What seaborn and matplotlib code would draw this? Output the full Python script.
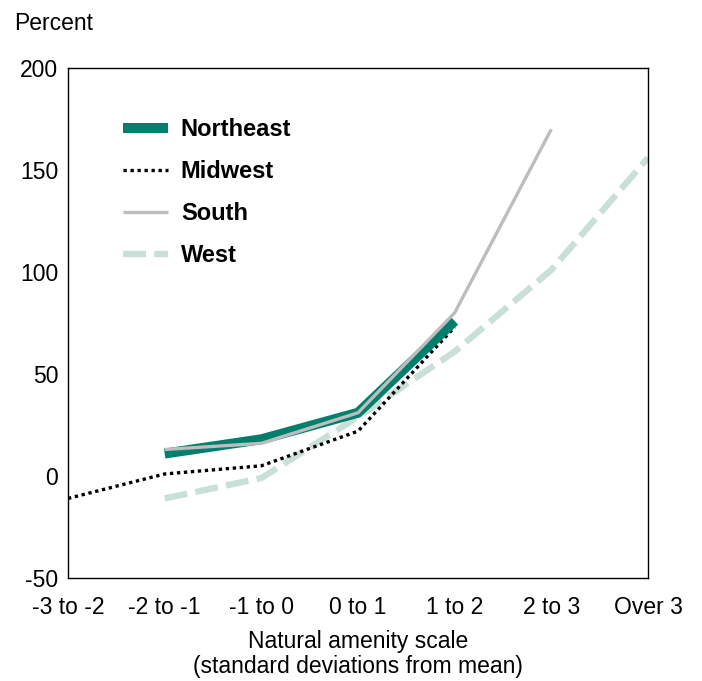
import numpy as np
import pandas as pd
import matplotlib
matplotlib.use("Agg")
import matplotlib.pyplot as plt
import seaborn as sns

sns.set_theme(style="white")
plt.rcParams['font.family'] = ['Liberation Sans', 'DejaVu Sans']

categories = ["-3 to -2", "-2 to -1", "-1 to 0", "0 to 1", "1 to 2", "2 to 3", "Over 3"]
northeast = [np.nan, 11, 18, 31, 76, np.nan, np.nan]
midwest = [-11, 1, 5, 22, 73, np.nan, np.nan]
south = [np.nan, 13, 16, 31, 80, 170, np.nan]
west = [np.nan, -11, -1, 29, 61, 101, 156]
yticks = [-50, 0, 50, 100, 150, 200]

series = {"Northeast": northeast, "Midwest": midwest, "South": south, "West": west}
rows = []
for name, vals in series.items():
    for i, v in enumerate(vals):
        if not np.isnan(v):
            rows.append({"region": name, "pos": i, "value": v})
df = pd.DataFrame(rows)

styles = {
    "Northeast": dict(color="#007f6c", lw=7.2, ls="-"),
    "Midwest": dict(color="#000000", lw=2.4, ls=(0, (1, 1.1))),
    "South": dict(color="#bdbdbd", lw=2.4, ls="-"),
    "West": dict(color="#c9e0d9", lw=4.6, ls=(0, (3.6, 1.3))),
}
zorders = {"West": 2, "Midwest": 3, "South": 5, "Northeast": 4}

fig = plt.figure(figsize=(7.02, 6.81), dpi=100)
ax = fig.add_axes([68/702, 1-578/681, 580/702, 510/681])

for name in ["Northeast", "Midwest", "South", "West"]:
    sub = df[df.region == name]
    st = styles[name]
    sns.lineplot(data=sub, x="pos", y="value", ax=ax, color=st["color"],
                 linewidth=st["lw"], linestyle=st["ls"], label=name,
                 zorder=zorders[name], solid_capstyle="butt", dash_capstyle="butt")

ax.set_xlim(0, len(categories) - 1)
ax.set_ylim(-50, 200)
ax.set_xticks(range(len(categories)))
ax.set_xticklabels(categories)
ax.set_yticks(yticks)
ax.set_yticklabels([str(t) for t in yticks])
ax.tick_params(axis="both", direction="in", length=8, width=1, color="black",
               labelsize=16.5, labelcolor="black")
ax.tick_params(axis="x", pad=13)
ax.tick_params(axis="y", pad=7)
for s in ax.spines.values():
    s.set_color("black")
    s.set_linewidth(1.0)
ax.set_ylabel("")
ax.set_xlabel("Natural amenity scale\n(standard deviations from mean)",
              fontsize=16.5, color="black", labelpad=8, linespacing=1.1)
fig.text(14/702, 1-23/681, "Percent", fontsize=16.5, color="black", va="center", ha="left")

leg = ax.legend(loc="upper left", bbox_to_anchor=(0.0948, 0.901), frameon=False,
                prop={"weight": "bold", "size": 17}, handlelength=1.9,
                handletextpad=0.55, labelspacing=0.8, borderpad=0, borderaxespad=0)
for t in leg.get_texts():
    t.set_color("black")

fig.savefig("out.png", dpi=100)
